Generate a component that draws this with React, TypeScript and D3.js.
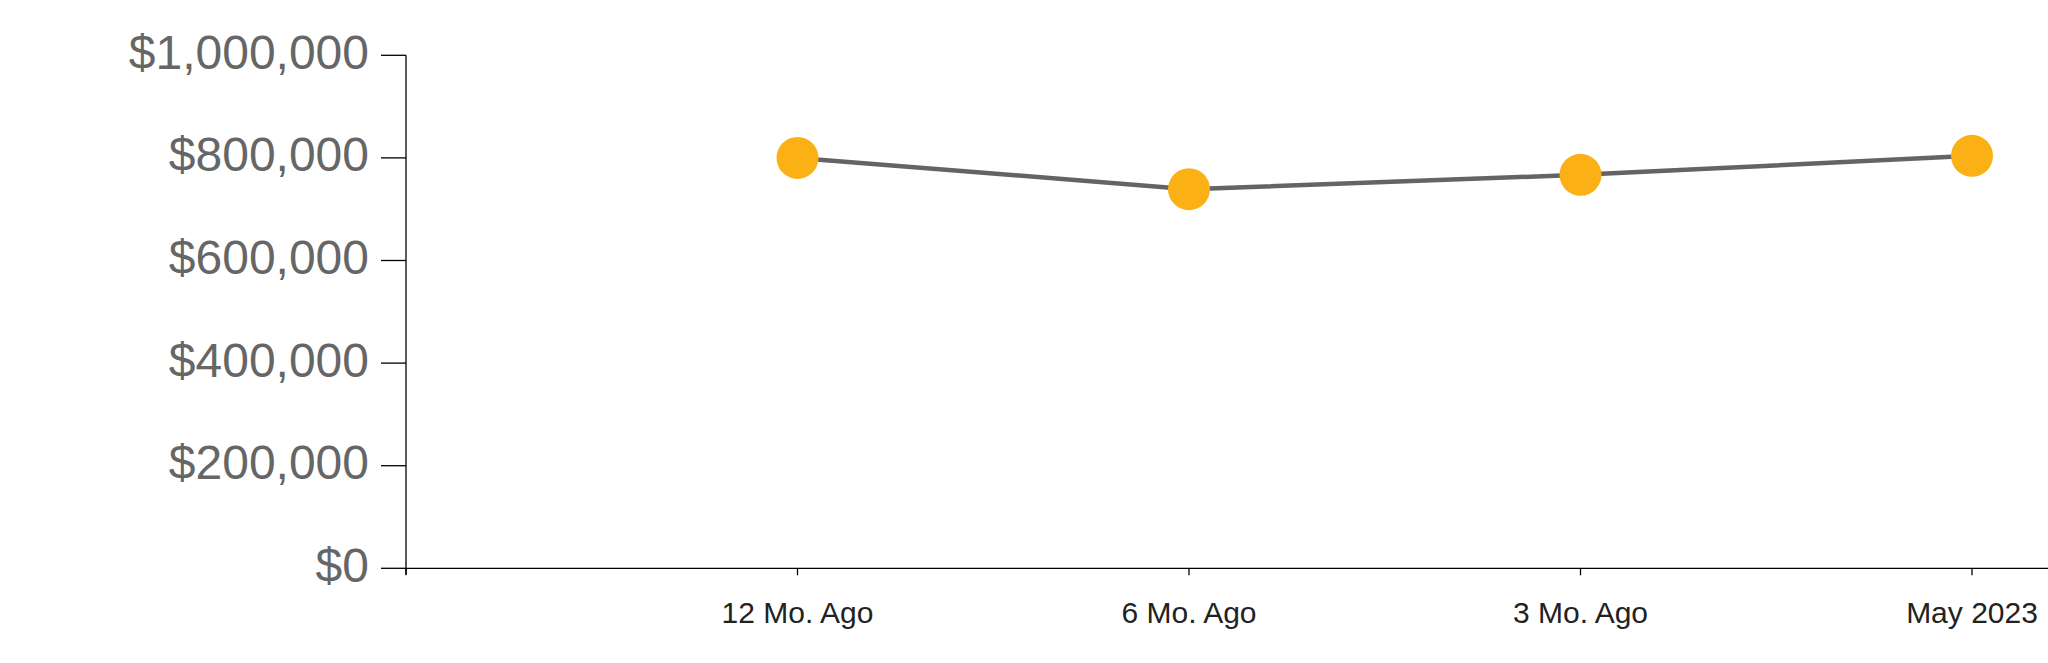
import React from "react";
import * as d3 from "d3";

const categories = ["", "12 Mo. Ago", "6 Mo. Ago", "3 Mo. Ago", "May 2023"];
const pointCategories = ["12 Mo. Ago", "6 Mo. Ago", "3 Mo. Ago", "May 2023"];
const values = [800000, 739000, 767000, 804000];
const yTicks = [0, 200000, 400000, 600000, 800000, 1000000];

const W = 2048;
const H = 663;

export default function App() {
  const x = d3.scalePoint<string>().domain(categories).range([406, 1972]);
  const y = d3.scaleLinear().domain([0, 1000000]).range([568.3, 55.3]);
  const fmt = (v: number) => "$" + d3.format(",")(v);
  const line = d3
    .line<number>()
    .x((_, i) => x(pointCategories[i]) as number)
    .y((d) => y(d));
  const font = "'Liberation Sans', Arial, sans-serif";
  return (
    <svg
      width={W}
      height={H}
      style={{ position: "absolute", left: 0, top: 0, background: "#fff" }}
    >
      {/* y axis */}
      <g>
        <line x1={406} x2={406} y1={y(1000000)} y2={y(0) + 6} stroke="#000" strokeWidth={1.3} />
        {yTicks.map((t) => (
          <g key={t} transform={`translate(0,${y(t)})`}>
            <line x1={381} x2={406} stroke="#000" strokeWidth={1.3} />
            <text
              x={369}
              dy="0.28em"
              textAnchor="end"
              fontFamily={font}
              fontSize={48}
              fill="#666"
            >
              {fmt(t)}
            </text>
          </g>
        ))}
      </g>
      {/* x axis */}
      <g>
        <line x1={406} x2={W} y1={y(0)} y2={y(0)} stroke="#000" strokeWidth={1.3} />
        {categories.map((c) => (
          <g key={c || "blank"} transform={`translate(${x(c) as number},${y(0)})`}>
            <line y1={0} y2={7} stroke="#000" strokeWidth={1.3} />
            {c && (
              <text
                y={55}
                textAnchor="middle"
                fontFamily={font}
                fontSize={30}
                fill="#222"
              >
                {c}
              </text>
            )}
          </g>
        ))}
      </g>
      {/* line */}
      <path d={line(values) as string} fill="none" stroke="#646464" strokeWidth={4.5} />
      {values.map((v, i) => (
        <circle
          key={i}
          cx={x(pointCategories[i]) as number}
          cy={y(v)}
          r={21}
          fill="#fbb116"
        />
      ))}
    </svg>
  );
}
